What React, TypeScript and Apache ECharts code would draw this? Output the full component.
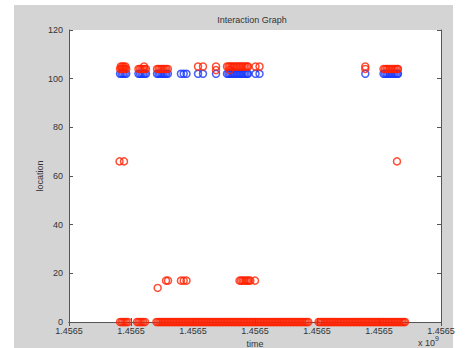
import React, { useEffect, useRef } from "react";
import * as echarts from "echarts";

// time axis: seconds since BASE_TIME (epoch seconds)
const BASE_TIME = 1456470000;
const X_MIN = 1456470000;
const X_MAX = 1456530000;
const X_STEP = 10000;
const Y_TICKS = [0, 20, 40, 60, 80, 100, 120];

// blue observations, location 102
const blueAt102 = [8230, 8480, 8730, 8980, 9230,
  11200, 11450, 11700, 11950, 12200, 12420,
  14200, 14450, 14700, 14950, 15200, 15450, 15700, 15950,
  18050, 18500, 18950, 20810, 21610, 23710,
  25480, 25730, 25980, 26230, 26480, 26730, 26980, 27230, 27480, 27730, 27980, 28230, 28480, 28730, 28870,
  30080, 30730, 47790,
  50730, 50980, 51230, 51480, 51730, 51980, 52230, 52480, 52730, 52980, 53060];

// red observations
const redAt104 = [8230, 8480, 8730, 8980, 9230,
  11200, 11450, 11700, 11950, 12200, 12420,
  14200, 14450, 14700, 14950, 15200, 15450, 15700, 15950,
  47790,
  50730, 50980, 51230, 51480, 51730, 51980, 52230, 52480, 52730, 52980, 53060];
const redAt105 = [8350, 8600, 8850, 9100, 12100, 20810, 21610, 23710,
  25480, 25730, 25980, 26230, 26480, 26730, 26980, 27230, 27480, 27730, 27980, 28230, 28480, 28730, 28870,
  30080, 30730, 47790];
const redAt0 = [8230, 8480, 8730, 8980, 9230, 9520, 10970, 11220, 11470, 11720, 11970, 12260,
  14100, 14350, 14600, 14850, 15100, 15350, 15600, 15850, 16100, 16350, 16600, 16850, 17100, 17350, 17600, 17850,
  18100, 18350, 18600, 18850, 19100, 19350, 19600, 19850, 20100, 20350, 20600, 20850, 21100, 21350, 21600, 21850,
  22100, 22350, 22600, 22850, 23100, 23350, 23600, 23850, 24100, 24350, 24600, 24850, 25100, 25350, 25600, 25850,
  26100, 26350, 26600, 26850, 27100, 27350, 27600, 27850, 28100, 28350, 28600, 28850, 29100, 29350, 29600, 29850,
  30100, 30350, 30600, 30850, 31100, 31350, 31600, 31850, 32100, 32350, 32600, 32850, 33100, 33350, 33600, 33850,
  34100, 34350, 34600, 34850, 35100, 35350, 35600, 35850, 36100, 36350, 36600, 36850, 37100, 37350, 37600, 37850,
  38100, 38350, 38600,
  40250, 40500, 40750, 41000, 41250, 41500, 41750, 42000, 42250, 42500, 42750, 43000, 43250, 43500, 43750, 44000,
  44250, 44500, 44750, 45000, 45250, 45500, 45750, 46000, 46250, 46500, 46750, 47000, 47250, 47500, 47750, 48000,
  48250, 48500, 48750, 49000, 49250, 49500, 49750, 50000, 50250, 50500, 50750, 51000, 51250, 51500, 51750, 52000,
  52250, 52500, 52750, 53000, 53250, 53500, 53750, 54000, 54200];
const redOtherTimes = [23710, 25920, 8150, 8870, 52900, 15650, 15970, 18050, 18500, 18950,
  27500, 27750, 28000, 28250, 28500, 28750, 29000, 29250, 30000, 14300];
const redOtherLocs = [103.5, 103.5, 66, 66, 66, 17, 17, 17, 17, 17,
  17, 17, 17, 17, 17, 17, 17, 17, 17, 14];

const RED = "#ff2200";
const BLUE = "#1838ff";
const AXIS = "#555555";
const TEXT = "#333333";
const FONT = "Liberation Sans";

export default function App() {
  const ref = useRef<HTMLDivElement>(null);
  useEffect(() => {
    const chart = echarts.init(ref.current!, null, { renderer: "svg" });
    const pts = (ts: number[], loc: number) => ts.map((t) => [BASE_TIME + t, loc]);
    const blueData = pts(blueAt102, 102);
    const redData = [
      ...pts(redAt0, 0),
      ...pts(redAt104, 104),
      ...pts(redAt105, 105),
      ...redOtherTimes.map((t, i) => [BASE_TIME + t, redOtherLocs[i]]),
    ];
    const marker = (c: string) => ({
      symbol: "circle",
      symbolSize: 7,
      itemStyle: { color: "rgba(0,0,0,0)", borderColor: c, borderWidth: 1.5 },
    });
    const xBase = {
      type: "value",
      min: X_MIN,
      max: X_MAX,
      interval: X_STEP,
      axisLine: { show: true, lineStyle: { color: AXIS, width: 1 } },
      axisTick: { show: true, inside: true, length: 4, lineStyle: { color: AXIS } },
      splitLine: { show: false },
    };
    const yBase = {
      type: "value",
      min: Y_TICKS[0],
      max: Y_TICKS[Y_TICKS.length - 1],
      interval: 20,
      axisLine: { show: true, lineStyle: { color: AXIS, width: 1 } },
      axisTick: { show: true, inside: true, length: 4, lineStyle: { color: AXIS } },
      splitLine: { show: false },
    };
    chart.setOption({
      animation: false,
      graphic: [
        { type: "rect", z: -100, shape: { x: 14, y: 5, width: 439, height: 343 }, style: { fill: "#d4d4d4" } },
        { type: "text", x: 252, y: 20, style: { text: "Interaction Graph", fill: TEXT, font: `9px "${FONT}"`, align: "center", verticalAlign: "middle" } },
        { type: "text", x: 418, y: 343, style: { text: "x 10", fill: TEXT, font: `9px "${FONT}"`, align: "left", verticalAlign: "middle" } },
        { type: "text", x: 435, y: 338, style: { text: "9", fill: TEXT, font: `7px "${FONT}"`, align: "left", verticalAlign: "middle" } },
      ],
      grid: {
        left: 69, right: 26, top: 30, bottom: 26, show: true, backgroundColor: "#ffffff", borderWidth: 0,
        outerBoundsMode: "none", containLabel: false,
      },
      xAxis: [
        {
          ...xBase,
          position: "bottom",
          name: "time",
          nameLocation: "middle",
          nameGap: 17,
          nameMoveOverlap: false,
          nameTextStyle: { color: TEXT, fontSize: 9, fontFamily: FONT },
          axisLabel: {
            show: true, margin: 4, color: TEXT, fontSize: 9, fontFamily: FONT,
            showMinLabel: true, showMaxLabel: true,
            formatter: (v: number) => (v / 1e9).toFixed(4),
          },
        },
        { ...xBase, position: "top", axisLabel: { show: false } },
      ],
      yAxis: [
        {
          ...yBase,
          position: "left",
          name: "location",
          nameLocation: "middle",
          nameGap: 25,
          nameMoveOverlap: false,
          nameTextStyle: { color: TEXT, fontSize: 9, fontFamily: FONT },
          axisLabel: { show: true, margin: 6, color: TEXT, fontSize: 9, fontFamily: FONT },
        },
        { ...yBase, position: "right", axisLabel: { show: false } },
      ],
      series: [
        { type: "scatter", xAxisIndex: 0, yAxisIndex: 0, data: blueData, ...marker(BLUE), z: 2 },
        { type: "scatter", xAxisIndex: 0, yAxisIndex: 0, data: redData, ...marker(RED), z: 3 },
      ],
    });
    return () => chart.dispose();
  }, []);
  return <div ref={ref} style={{ position: "absolute", left: 0, top: 0, width: 467, height: 348 }} />;
}
